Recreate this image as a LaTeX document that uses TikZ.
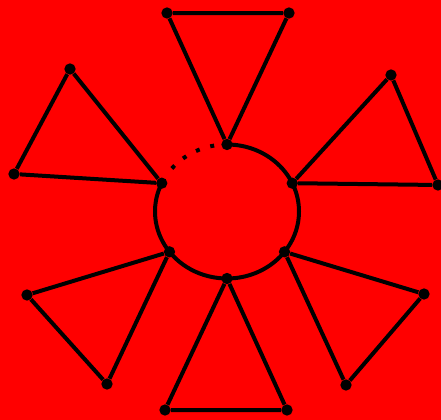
\documentclass[tikz,border=0pt]{standalone}
\usepackage{tikz}
\usetikzlibrary{calc}

\begin{document}
\begin{tikzpicture}[
  x=0.03cm, y=-0.03cm,
  vtx/.style={circle, fill=black, inner sep=0pt, minimum size=0.34cm},
  edge/.style={line width=0.12cm, black},
  gapline/.style={line width=0.12cm, black, dash pattern=on 0.12cm off 0.33cm}
]
\fill[red] (0,0) rectangle (441,420);
\useasboundingbox (0,0) rectangle (441,420);

\coordinate (c) at (227,211.5);

% vertices on the ring
\node[vtx] (T)  at ($(c)+(270:72 and 67)$) {};
\node[vtx] (R1) at ($(c)+(335:72 and 67)$) {};
\node[vtx] (R2) at ($(c)+(37:72 and 67)$) {};
\node[vtx] (B)  at ($(c)+(90:72 and 67)$) {};
\node[vtx] (L2) at ($(c)+(143:72 and 67)$) {};
\node[vtx] (L1) at ($(c)+(205:72 and 67)$) {};

% outer vertices
\node[vtx] (ta) at (167,13) {};
\node[vtx] (tb) at (289,13) {};
\node[vtx] (ra) at (391,75) {};
\node[vtx] (rb) at (438,185) {};
\node[vtx] (sa) at (424,294) {};
\node[vtx] (sb) at (346,385) {};
\node[vtx] (ba) at (287,410) {};
\node[vtx] (bb) at (165,410) {};
\node[vtx] (wa) at (107,384) {};
\node[vtx] (wb) at (27,295) {};
\node[vtx] (ua) at (14,174) {};
\node[vtx] (ub) at (70,69) {};

% ring
\draw[edge] (T.center) arc[start angle=270, end angle=565, x radius=72, y radius=67];
\draw[gapline] ($(c)+(220:72 and 67)$) arc[start angle=220, end angle=263, x radius=72, y radius=67];

% triangles
\draw[edge] (T) -- (ta) -- (tb) -- (T);
\draw[edge] (R1) -- (ra) -- (rb) -- (R1);
\draw[edge] (R2) -- (sa) -- (sb) -- (R2);
\draw[edge] (B) -- (ba) -- (bb) -- (B);
\draw[edge] (L2) -- (wa) -- (wb) -- (L2);
\draw[edge] (L1) -- (ua) -- (ub) -- (L1);
\end{tikzpicture}
\end{document}
